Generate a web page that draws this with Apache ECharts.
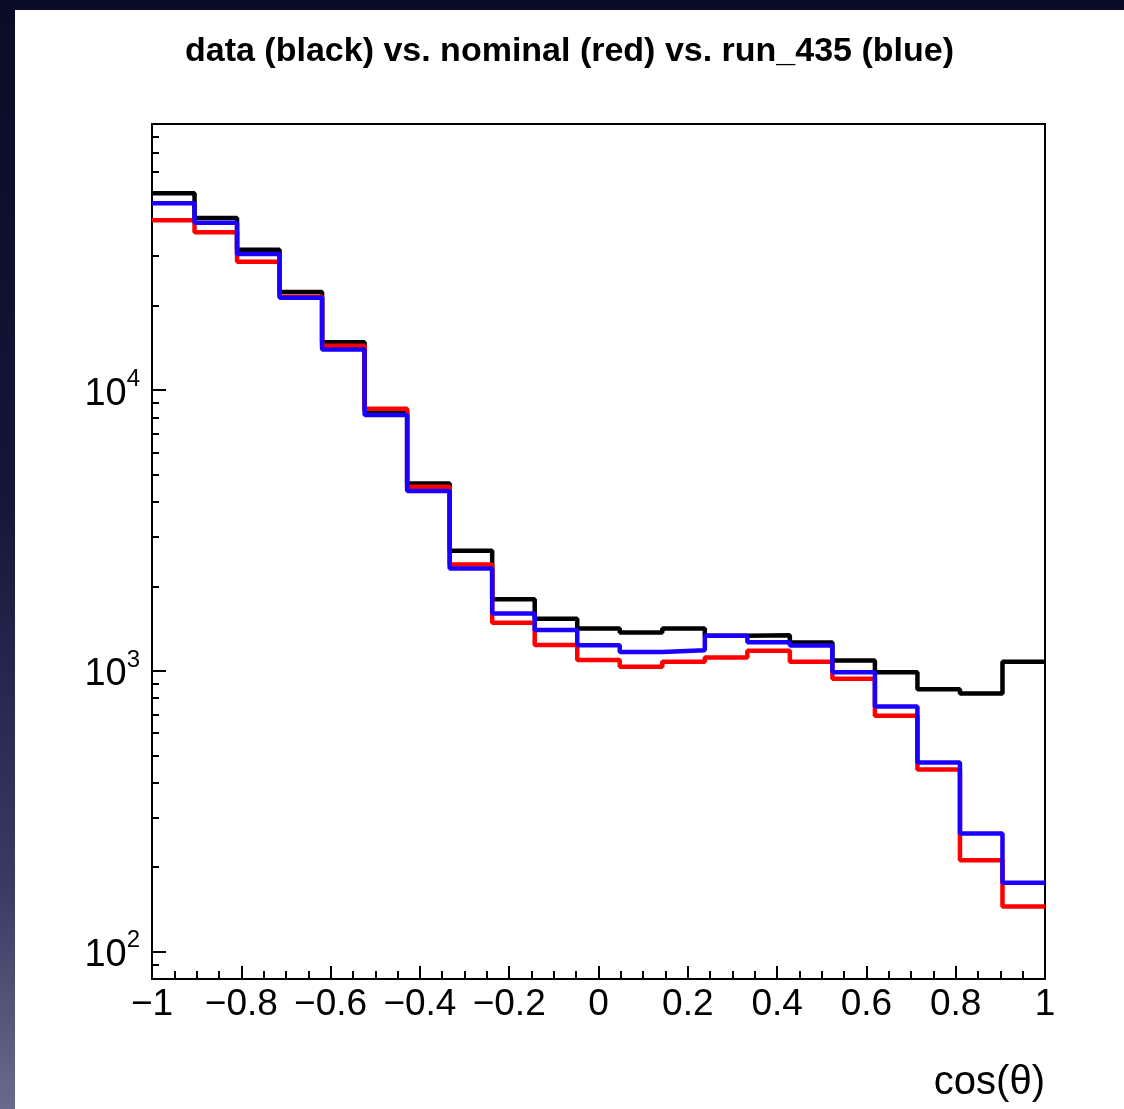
<!DOCTYPE html>
<html><head><meta charset="utf-8">
<script src="https://cdn.jsdelivr.net/npm/echarts@6/dist/echarts.min.js"></script>
<style>
html,body{margin:0;padding:0;width:1124px;height:1109px;overflow:hidden;}
body{background:linear-gradient(to bottom,#0a0b26 0%,#14163a 45%,#3a3b62 80%,#6a6a8c 100%);}
#chart{position:absolute;left:15px;top:10px;width:1109px;height:1099px;background:#fff;}
</style></head><body><div id="chart"></div>
<script>
// ---- data ----
const binCount = 21;
const xRange = [-1, 1];
const dataCounts    = [50180, 40980, 31590, 22340, 14790, 8450, 4650, 2680, 1800, 1533, 1415, 1371, 1417, 1335, 1341, 1262, 1090, 990, 861, 831, 1078];
const nominalCounts = [40210, 36440, 28640, 21500, 14380, 8580, 4524, 2395, 1484, 1236, 1093, 1034, 1078, 1117, 1179, 1078, 937, 693, 446, 212, 145];
const run435Counts  = [46220, 39430, 30500, 21320, 13960, 8147, 4368, 2317, 1602, 1398, 1234, 1169, 1186, 1334, 1266, 1233, 990, 747, 472, 264, 176];
const xTickLabels = ['−1', '−0.8', '−0.6', '−0.4', '−0.2', '0', '0.2', '0.4', '0.6', '0.8', '1'];
const yMajorTicks = [100, 1000, 10000];
const yMinorTicks = [90, 200, 300, 400, 500, 600, 700, 800, 900, 2000, 3000, 4000, 5000, 6000, 7000, 8000, 9000, 20000, 30000, 40000, 50000, 60000, 70000, 80000];
const yRange = [80, 88600];
const titleText = 'data (black) vs. nominal (red) vs. run_435 (blue)';
const xTitle = 'cos(θ)';

// ---- build ----
const binWidth = (xRange[1] - xRange[0]) / binCount;
const binEdges = [];
for (let i = 0; i <= binCount; i++) binEdges.push(xRange[0] + i * binWidth);
function stepData(counts) {
  return binEdges.map((e, i) => [e, counts[Math.min(i, counts.length - 1)]]);
}
function xLabel(v) {
  const idx = Math.round((v - xRange[0]) / 0.2);
  return xTickLabels[idx] !== undefined ? xTickLabels[idx] : '';
}
const labelFont = 'Liberation Sans, Arial, Helvetica, sans-serif';

const chart = echarts.init(document.getElementById('chart'), null, {renderer: 'canvas'});
chart.setOption({
  animation: false,
  backgroundColor: '#ffffff',
  title: [{
    text: titleText, left: 'center', top: 25, padding: 0,
    textStyle: {fontFamily: labelFont, fontWeight: 'bold', fontSize: 34, color: '#000'}
  }, {
    text: xTitle, right: 79, top: 1053, padding: 0,
    textStyle: {fontFamily: labelFont, fontWeight: 'normal', fontSize: 40, color: '#000'}
  }],
  grid: {left: 137, top: 114, right: 79, bottom: 130, show: true, borderColor: '#000', borderWidth: 2, backgroundColor: 'transparent'},
  xAxis: {
    type: 'value', min: xRange[0], max: xRange[1], interval: 0.2,
    axisLine: {show: true, onZero: false, lineStyle: {color: '#000', width: 2}},
    axisTick: {show: true, inside: true, length: 13, lineStyle: {color: '#000', width: 2}},
    minorTick: {show: true, splitNumber: 4, length: 8, lineStyle: {color: '#000', width: 2}},
    splitLine: {show: false}, minorSplitLine: {show: false},
    axisLabel: {show: true, margin: 7, fontSize: 37, fontFamily: labelFont, color: '#000', formatter: xLabel, showMinLabel: true, showMaxLabel: true}
  },
  yAxis: [{
    type: 'log', logBase: 10, min: yRange[0], max: yRange[1], position: 'left',
    axisLine: {show: true, onZero: false, lineStyle: {color: '#000', width: 2}},
    axisTick: {show: true, inside: true, length: 14, customValues: yMajorTicks, lineStyle: {color: '#000', width: 2}},
    splitLine: {show: false},
    axisLabel: {
      show: true, margin: 12, customValues: yMajorTicks, color: '#000',
      formatter: function (v) { return '{b|10}{s|' + Math.round(Math.log10(v)) + '}'; },
      rich: {
        b: {fontSize: 38, fontFamily: labelFont, color: '#000', lineHeight: 46, verticalAlign: 'bottom'},
        s: {fontSize: 24, fontFamily: labelFont, color: '#000', lineHeight: 46, verticalAlign: 'top'}
      }
    }
  }, {
    type: 'log', logBase: 10, min: yRange[0], max: yRange[1], position: 'left', offset: 0,
    axisLine: {show: false, onZero: false},
    axisTick: {show: true, inside: true, length: 7, customValues: yMinorTicks, lineStyle: {color: '#000', width: 2}},
    splitLine: {show: false},
    axisLabel: {show: false}
  }],
  series: [
    {name: 'data', type: 'line', step: 'end', data: stepData(dataCounts), yAxisIndex: 0, symbol: 'none', lineStyle: {color: '#000000', width: 4.5}, z: 2},
    {name: 'nominal', type: 'line', step: 'end', data: stepData(nominalCounts), yAxisIndex: 0, symbol: 'none', lineStyle: {color: '#ff0000', width: 4.5}, z: 3},
    {name: 'run_435', type: 'line', step: 'end', data: stepData(run435Counts), yAxisIndex: 0, symbol: 'none', lineStyle: {color: '#1a00ff', width: 4.5}, z: 4}
  ]
});
</script></body></html>
